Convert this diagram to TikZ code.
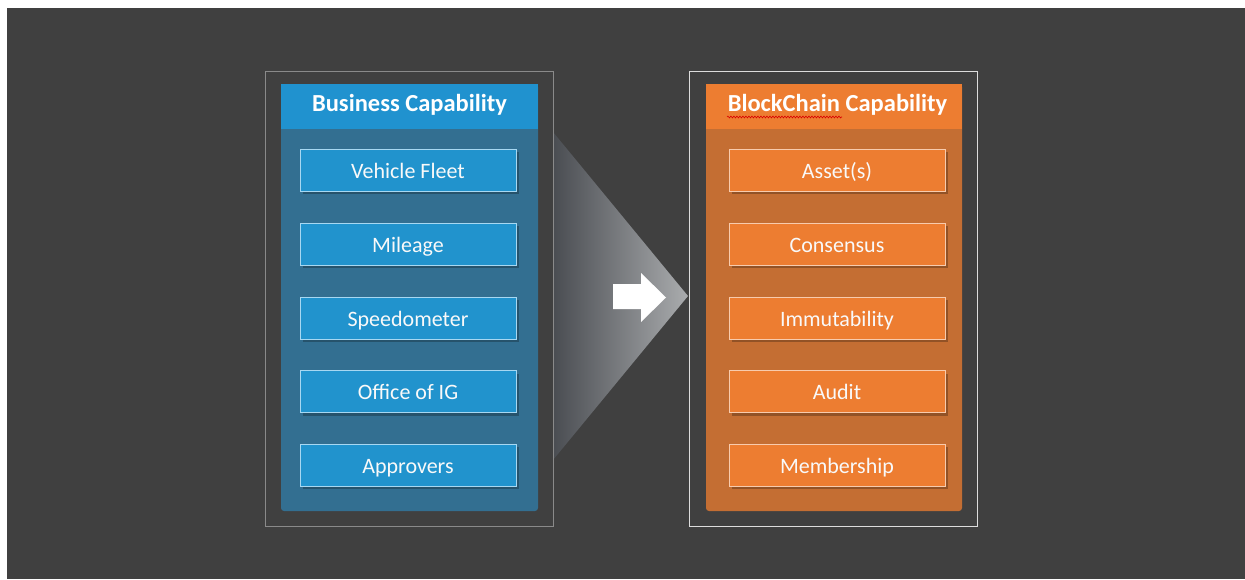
\documentclass[tikz,border=0pt]{standalone}
\usepackage{fontspec}
\setmainfont{Carlito}
\usetikzlibrary{shadows,decorations.pathmorphing}
\definecolor{bg}{HTML}{404040}
\definecolor{bhead}{HTML}{2092CF}
\definecolor{bbody}{HTML}{336F91}
\definecolor{bbox}{HTML}{2193CD}
\definecolor{bline}{HTML}{A7D8F2}
\definecolor{ohead}{HTML}{ED7D31}
\definecolor{obody}{HTML}{C46E33}
\definecolor{obox}{HTML}{ED7D31}
\definecolor{oline}{HTML}{F8CBAD}
\definecolor{lframe}{HTML}{8A8A8A}
\definecolor{rframe}{HTML}{DDDDDD}
\definecolor{gleft}{HTML}{4A4D52}
\definecolor{gright}{HTML}{AAACAE}
\tikzset{
  capbox/.style={minimum width=216pt, minimum height=42pt, inner sep=0pt, line width=1pt,
    text=white!95!gray, font=\fontsize{22}{24}\selectfont, text height=17pt, text depth=1pt,
    drop shadow={shadow xshift=3pt, shadow yshift=-3pt, fill=black, opacity=0.25}},
  bluebox/.style={capbox, fill=bbox, draw=bline},
  orangebox/.style={capbox, fill=obox, draw=oline},
  headtext/.style={text=white, font=\bfseries\fontsize{24.5}{26}\selectfont, inner sep=0pt},
}
\begin{document}
\begin{tikzpicture}[x=1pt,y=-1pt]
\useasboundingbox (0,0) rectangle (1245,579);
\fill[white] (0,0) rectangle (1245,579);
\fill[bg] (7,8) rectangle (1245,579);
% gradient triangle
\shade[left color=gleft, right color=gright] (553,132) -- (688,296) -- (553,460) -- cycle;
% frames
\node[draw=lframe, line width=1pt, minimum width=288pt, minimum height=455pt, inner sep=0pt, anchor=north west] (lfr) at (265,71) {};
\node[draw=rframe, line width=1pt, minimum width=288pt, minimum height=455pt, inner sep=0pt, anchor=north west] (rfr) at (689,71) {};
% left panel
\fill[bbody, rounded corners=3pt] (281,84) rectangle (538,511);
\fill[bhead] (281,84) rectangle (538,129);
\node[headtext] (lhead) at (409.5,105) {Business Capability};
% right panel
\fill[obody, rounded corners=3pt] (706,84) rectangle (962,511);
\fill[ohead] (706,84) rectangle (962,129);
\node[headtext] (rhead) at (837.5,105) {BlockChain Capability};
\draw[red!85!black, line width=0.6pt, decorate, decoration={snake, amplitude=0.9pt, segment length=3pt}] (727,117) -- (842,117);
% white arrow
\fill[white] (613,284) -- (641,284) -- (641,273) -- (666,297.5) -- (641,322) -- (641,309) -- (613,309) -- cycle;
% left boxes
\node[bluebox] (b1) at (408,170) {Vehicle Fleet};
\node[bluebox] (b2) at (408,244) {Mileage};
\node[bluebox] (b3) at (408,318) {Speedometer};
\node[bluebox] (b4) at (408,391.5) {Office of IG};
\node[bluebox] (b5) at (408,465) {Approvers};
% right boxes
\node[orangebox] (o1) at (837,170) {Asset(s)};
\node[orangebox] (o2) at (837,244) {Consensus};
\node[orangebox] (o3) at (837,318) {Immutability};
\node[orangebox] (o4) at (837,391.5) {Audit};
\node[orangebox] (o5) at (837,465) {Membership};
\end{tikzpicture}
\end{document}
